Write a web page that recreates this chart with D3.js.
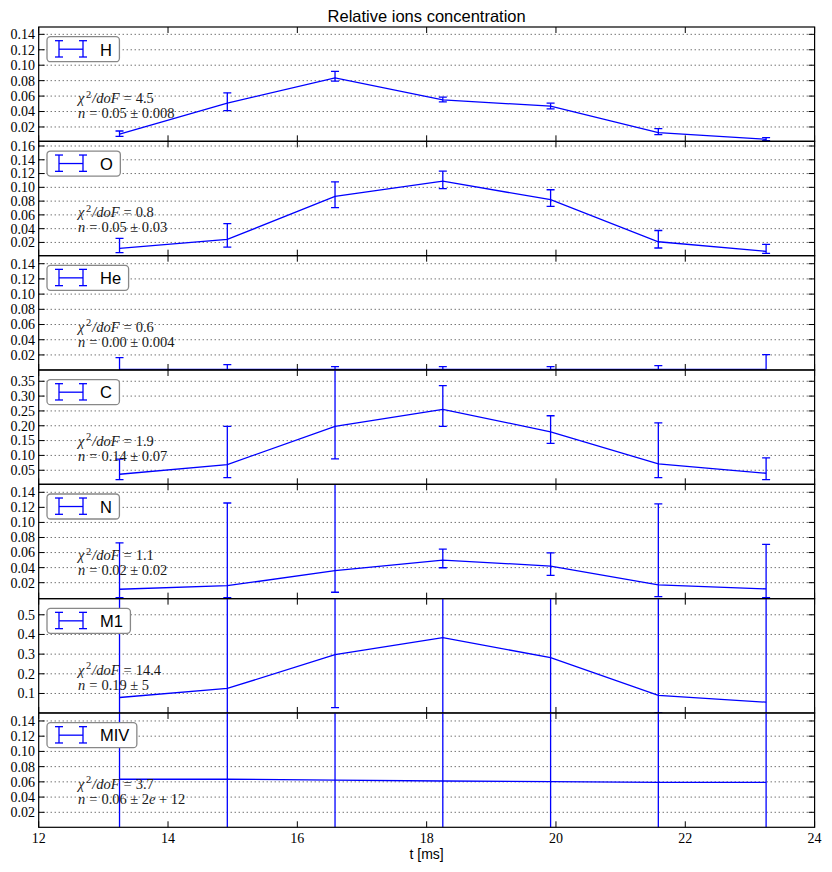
<!DOCTYPE html>
<html><head><meta charset="utf-8">
<script src="https://cdn.jsdelivr.net/npm/d3@7"></script>
<style>body{margin:0;background:#fff}</style>
</head><body><svg id="c" width="832" height="872"></svg>
<script>
// ---- data ----
const times = [13.25, 14.917, 16.583, 18.25, 19.917, 21.583, 23.25];
const ions = ["H", "O", "He", "C", "N", "M1", "MIV"];

const valH  = [0.0108, 0.0508, 0.0836, 0.0551, 0.0469, 0.0127, 0.0040];
const lowH  = [0.0079, 0.0413, 0.0793, 0.0525, 0.0434, 0.0101, 0.0023];
const highH = [0.0148, 0.0642, 0.0920, 0.0586, 0.0508, 0.0179, 0.0062];

const valO  = [0.0113, 0.0243, 0.0868, 0.1090, 0.0820, 0.0210, 0.0070];
const lowO  = [0.0051, 0.0133, 0.0704, 0.0981, 0.0725, 0.0119, 0.0041];
const highO = [0.0258, 0.0474, 0.1080, 0.1235, 0.0965, 0.0373, 0.0171];

const valHe  = [0.0010, 0.0010, 0.0010, 0.0010, 0.0010, 0.0010, 0.0010];
const lowHe  = [-0.014, -0.005, -0.003, -0.003, -0.003, -0.004, -0.018];
const highHe = [0.0164, 0.0072, 0.0046, 0.0046, 0.0046, 0.0059, 0.0204];

const valC  = [0.0365, 0.0693, 0.1978, 0.2553, 0.1797, 0.0713, 0.0399];
const lowC  = [0.0185, 0.0253, 0.0883, 0.1978, 0.1403, 0.0253, 0.0185];
const highC = [0.0872, 0.1978, 0.4200, 0.3352, 0.2337, 0.2100, 0.0916];

const valN  = [0.0113, 0.0160, 0.0359, 0.0500, 0.0421, 0.0170, 0.0117];
const lowN  = [0.0000, 0.0000, 0.0073, 0.0398, 0.0298, 0.0015, 0.0000];
const highN = [0.0729, 0.1258, 0.2000, 0.0646, 0.0597, 0.1245, 0.0708];

const valM1  = [0.0796, 0.1255, 0.2970, 0.3840, 0.2820, 0.0898, 0.0556];
const lowM1  = [-5, -5, 0.0285, -5, -5, 0.0030, -5];
const highM1 = [5, 5, 0.75, 5, 5, 5, 5];

const valMIV  = [0.0634, 0.0634, 0.0624, 0.0611, 0.0602, 0.0594, 0.0594];
const lowMIV  = [-2e12, -2e12, -2e12, -2e12, -2e12, -2e12, -2e12];
const highMIV = [2e12, 2e12, 2e12, 2e12, 2e12, 2e12, 2e12];

const chi2 = ["4.5", "0.8", "0.6", "1.9", "1.1", "14.4", "3.7"];
const nFit = [["0.05", "0.008"], ["0.05", "0.03"], ["0.00", "0.004"], ["0.14", "0.07"],
              ["0.02", "0.02"], ["0.19", "5"], ["0.06", "2e+12"]];

const yDomains = [[0.0014, 0.1495], [0.0008, 0.1668], [0.0002, 0.1506], [0.0026, 0.388],
                  [-0.0012, 0.1506], [0.0009, 0.582], [0.0003, 0.1505]];
const yTicks = [
  [0.02, 0.04, 0.06, 0.08, 0.10, 0.12, 0.14],
  [0.02, 0.04, 0.06, 0.08, 0.10, 0.12, 0.14, 0.16],
  [0.02, 0.04, 0.06, 0.08, 0.10, 0.12, 0.14],
  [0.05, 0.10, 0.15, 0.20, 0.25, 0.30, 0.35],
  [0.02, 0.04, 0.06, 0.08, 0.10, 0.12, 0.14],
  [0.1, 0.2, 0.3, 0.4, 0.5],
  [0.02, 0.04, 0.06, 0.08, 0.10, 0.12, 0.14]];
const yTickDecimals = [2, 2, 2, 2, 2, 1, 2];
const xTicks = [12, 14, 16, 18, 20, 22, 24];
const xDomain = [12, 24];
const title = "Relative ions concentration";
const xLabel = "t [ms]";

const series = [
  [valH, lowH, highH], [valO, lowO, highO], [valHe, lowHe, highHe], [valC, lowC, highC],
  [valN, lowN, highN], [valM1, lowM1, highM1], [valMIV, lowMIV, highMIV]];

// ---- layout ----
const svg = d3.select("#c");
const L = 38.7, R = 814.6, T = 27, B = 827.3;
const nP = ions.length, pH = (B - T) / nP;
const x = d3.scaleLinear().domain(xDomain).range([L, R]);
const blue = "#0000ff";
const serif = "'Liberation Serif', 'DejaVu Serif', serif";
const sans = "'Liberation Sans', Arial, sans-serif";

svg.append("text").attr("x", (L + R) / 2).attr("y", 22).attr("text-anchor", "middle")
  .attr("font-family", sans).attr("font-size", 16.5).text(title);

ions.forEach((ion, i) => {
  const top = T + i * pH, bot = top + pH;
  const y = d3.scaleLinear().domain(yDomains[i]).range([bot, top]);
  const g = svg.append("g");
  const cid = "clip" + i;
  svg.append("clipPath").attr("id", cid).append("rect")
    .attr("x", L).attr("y", top).attr("width", R - L).attr("height", pH);

  // grid
  g.append("g").selectAll("line").data(yTicks[i]).join("line")
    .attr("x1", L).attr("x2", R).attr("y1", d => y(d)).attr("y2", d => y(d))
    .attr("stroke", "#000").attr("stroke-width", 0.8).attr("stroke-dasharray", "1,3");

  // data
  const [vals, lows, highs] = series[i];
  const span = yDomains[i][1] - yDomains[i][0];
  const lim = v => Math.max(yDomains[i][0] - span, Math.min(yDomains[i][1] + span, v));
  const dg = g.append("g").attr("clip-path", `url(#${cid})`);
  const pts = times.map((t, k) => ({t, v: vals[k], lo: lim(lows[k]), hi: lim(highs[k])}));
  const eb = dg.selectAll("g.eb").data(pts).join("g").attr("class", "eb");
  eb.append("line").attr("x1", d => x(d.t)).attr("x2", d => x(d.t))
    .attr("y1", d => y(d.lo)).attr("y2", d => y(d.hi)).attr("stroke", blue).attr("stroke-width", 1.3);
  [d => d.lo, d => d.hi].forEach(f => {
    eb.append("line").attr("x1", d => x(d.t) - 4).attr("x2", d => x(d.t) + 4)
      .attr("y1", d => y(f(d))).attr("y2", d => y(f(d))).attr("stroke", blue).attr("stroke-width", 1.3);
  });
  dg.append("path").datum(pts).attr("fill", "none").attr("stroke", blue).attr("stroke-width", 1.3)
    .attr("d", d3.line().x(d => x(d.t)).y(d => y(d.v)));

  // legend
  const lg = g.append("g");
  const box = lg.append("rect").attr("x", 47).attr("y", top + 9.7).attr("height", 25).attr("rx", 3.5)
    .attr("fill", "#fff").attr("stroke", "#888").attr("stroke-width", 1.3);
  [59, 83].forEach(cx => {
    lg.append("line").attr("x1", cx).attr("x2", cx).attr("y1", top + 13.7).attr("y2", top + 30)
      .attr("stroke", blue).attr("stroke-width", 1.3);
    [13.7, 30].forEach(dy => lg.append("line").attr("x1", cx - 4).attr("x2", cx + 4)
      .attr("y1", top + dy).attr("y2", top + dy).attr("stroke", blue).attr("stroke-width", 1.3));
  });
  lg.append("line").attr("x1", 59).attr("x2", 83).attr("y1", top + 22.2).attr("y2", top + 22.2)
    .attr("stroke", blue).attr("stroke-width", 1.3);
  const lt = lg.append("text").attr("x", 100).attr("y", top + 28.5).attr("font-family", sans)
    .attr("font-size", 16.5).text(ion);
  const tw = lt.node().getComputedTextLength();
  box.attr("width", 100 + tw + 7.5 - 47);

  // annotation (math-like spacing)
  const a1 = g.append("text").attr("x", 78).attr("y", top + 76).attr("font-family", serif)
    .attr("font-size", 14.5).attr("fill", "#1a1a1a");
  a1.append("tspan").attr("font-style", "italic").text("χ");
  a1.append("tspan").attr("font-size", 10.5).attr("dx", 1.5).attr("dy", -5.5).text("2");
  a1.append("tspan").attr("font-style", "italic").attr("dx", 1).attr("dy", 5.5).text("/doF");
  a1.append("tspan").attr("dx", 4).text("=");
  a1.append("tspan").attr("dx", 4).text(chi2[i]);
  const a2 = g.append("text").attr("x", 78).attr("y", top + 91).attr("font-family", serif)
    .attr("font-size", 14.5).attr("fill", "#1a1a1a");
  a2.append("tspan").attr("font-style", "italic").text("n");
  a2.append("tspan").attr("dx", 4).text("=");
  a2.append("tspan").attr("dx", 4).text(nFit[i][0]);
  a2.append("tspan").attr("dx", 3.5).text("±");
  const err = nFit[i][1];
  if (err.includes("e")) {
    const [m, ex] = err.split("e");
    a2.append("tspan").attr("dx", 3.5).text(m);
    a2.append("tspan").attr("font-style", "italic").text("e");
    a2.append("tspan").attr("dx", 3.5).text("+");
    a2.append("tspan").attr("dx", 3.5).text(ex.replace("+", ""));
  } else {
    a2.append("tspan").attr("dx", 3.5).text(err);
  }

  // frame
  g.append("rect").attr("x", L).attr("y", top).attr("width", R - L).attr("height", pH)
    .attr("fill", "none").attr("stroke", "#000").attr("stroke-width", 1.2);

  // ticks
  const tk = g.append("g").attr("stroke", "#000").attr("stroke-width", 1);
  xTicks.forEach(t => {
    tk.append("line").attr("x1", x(t)).attr("x2", x(t)).attr("y1", top).attr("y2", top + 6);
    tk.append("line").attr("x1", x(t)).attr("x2", x(t)).attr("y1", bot).attr("y2", bot - 6);
  });
  yTicks[i].forEach(v => {
    tk.append("line").attr("x1", L).attr("x2", L + 6).attr("y1", y(v)).attr("y2", y(v));
    tk.append("line").attr("x1", R).attr("x2", R - 6).attr("y1", y(v)).attr("y2", y(v));
  });
  g.append("g").selectAll("text").data(yTicks[i]).join("text")
    .attr("x", 35).attr("y", d => y(d)).attr("dy", "0.35em").attr("text-anchor", "end")
    .attr("font-family", serif).attr("font-size", 14).text(d => d.toFixed(yTickDecimals[i]));

  if (i === nP - 1) {
    g.append("g").selectAll("text").data(xTicks).join("text")
      .attr("x", d => x(d)).attr("y", bot + 15.5).attr("text-anchor", "middle")
      .attr("font-family", serif).attr("font-size", 14).text(d => d);
    g.append("text").attr("x", (L + R) / 2).attr("y", bot + 32).attr("text-anchor", "middle")
      .attr("font-family", sans).attr("font-size", 14).text(xLabel);
  }
});
</script></body></html>
